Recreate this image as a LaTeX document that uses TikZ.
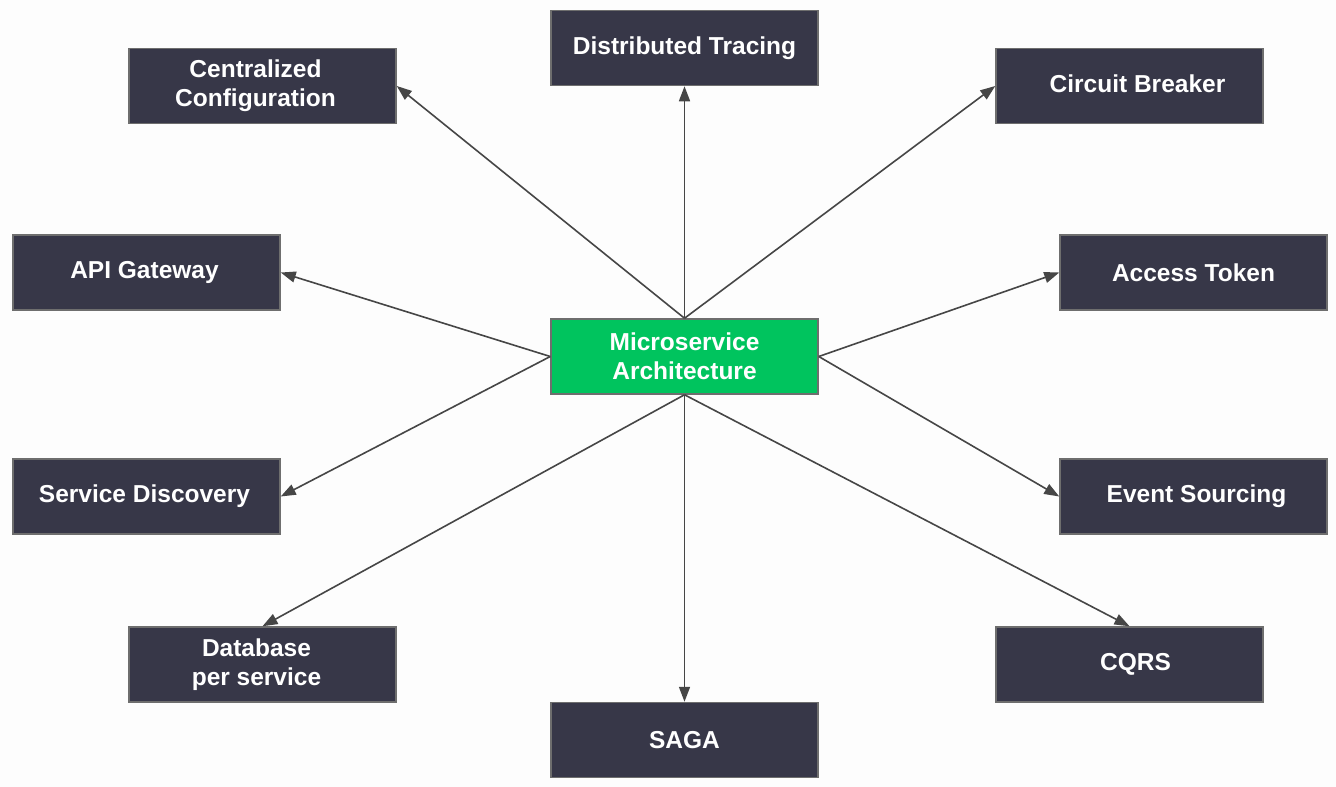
\documentclass[tikz,border=0pt]{standalone}
\usepackage{fontspec}
\setmainfont{Liberation Sans}
\usetikzlibrary{arrows.meta}
\definecolor{boxdark}{HTML}{373748}
\definecolor{boxedge}{HTML}{6E6E6E}
\definecolor{centergreen}{HTML}{00C45E}
\definecolor{arrowgray}{HTML}{464646}
\definecolor{bg}{HTML}{FDFDFD}
\begin{document}
\begin{tikzpicture}[x=1pt,y=-1pt,
  topic/.style={draw=boxedge, line width=1.5pt, fill=boxdark,
    minimum width=267pt, minimum height=75pt, inner sep=0pt},
  hub/.style={topic, fill=centergreen},
  words/.style={text=white, align=center, inner sep=0pt,
    font=\fontsize{24.5}{29}\selectfont\bfseries},
  link/.style={draw=arrowgray, line width=1.6pt,
    -{Triangle[length=15pt,width=11pt]}}
]
\fill[bg] (0,0) rectangle (1336,787);
\useasboundingbox (0,0) rectangle (1336,787);

\node[hub, label={[words]center:Microservice\\Architecture}] (c) at (684.5,356.5) {};

\node[topic, label={[words,xshift=-7pt]center:Centralized\\Configuration}] (cc) at (262.5,86) {};
\node[topic, label={[words]center:Distributed Tracing}] (dt) at (684.5,48) {};
\node[topic, label={[words,xshift=8pt,yshift=2pt]center:Circuit Breaker}] (cb) at (1129.5,86) {};
\node[topic, label={[words,xshift=-2pt]center:API Gateway}] (ag) at (146.5,272.5) {};
\node[topic, label={[words]center:Access Token}] (at) at (1193.5,272.5) {};
\node[topic, label={[words,xshift=-2pt]center:Service Discovery}] (sd) at (146.5,496.5) {};
\node[topic, label={[words,xshift=3pt]center:Event Sourcing}] (es) at (1193.5,496.5) {};
\node[topic, label={[words,xshift=-6pt]center:Database\\per service}] (db) at (262.5,664.5) {};
\node[topic, label={[words,xshift=6pt]center:CQRS}] (cq) at (1129.5,664.5) {};
\node[topic, label={[words]center:SAGA}] (sg) at (684.5,740) {};

\draw[link] (c.north) -- (cc.east);
\draw[link] (c.north) -- (dt.south);
\draw[link] (c.north) -- (cb.west);
\draw[link] (c.west) -- (ag.east);
\draw[link] (c.west) -- (sd.east);
\draw[link] (c.east) -- (at.west);
\draw[link] (c.east) -- (es.west);
\draw[link] (c.south) -- (db.north);
\draw[link] (c.south) -- (sg.north);
\draw[link] (c.south) -- (cq.north);
\end{tikzpicture}
\end{document}
